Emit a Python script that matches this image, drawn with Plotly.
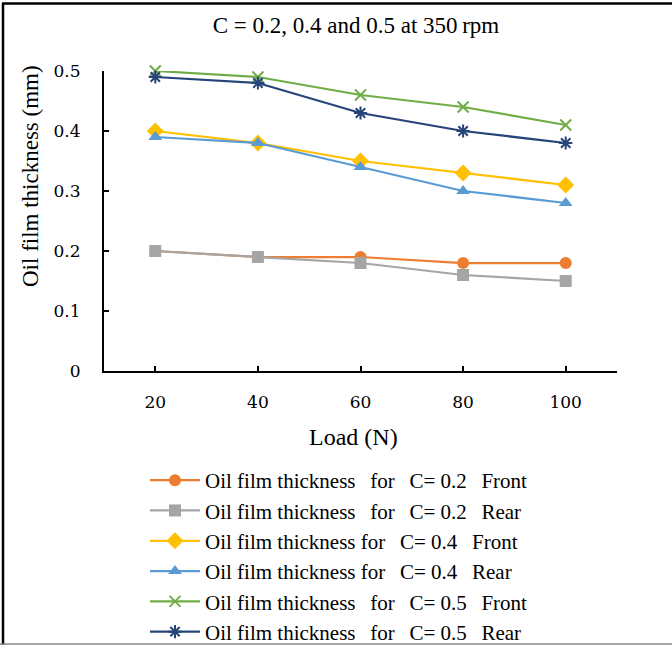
import plotly.graph_objects as go

loads = [20, 40, 60, 80, 100]
c02_front = [0.20, 0.19, 0.19, 0.18, 0.18]
c02_rear = [0.20, 0.19, 0.18, 0.16, 0.15]
c04_front = [0.40, 0.38, 0.35, 0.33, 0.31]
c04_rear = [0.39, 0.38, 0.34, 0.30, 0.28]
c05_front = [0.50, 0.49, 0.46, 0.44, 0.41]
c05_rear = [0.49, 0.48, 0.43, 0.40, 0.38]

S2 = " \u00a0\u2009"
names = [
    f"Oil film thickness{S2}for{S2}C= 0.2{S2}Front",
    f"Oil film thickness{S2}for{S2}C= 0.2{S2}Rear",
    f"Oil film thickness for{S2}C= 0.4{S2}Front",
    f"Oil film thickness for{S2}C= 0.4{S2}Rear",
    f"Oil film thickness{S2}for{S2}C= 0.5{S2}Front",
    f"Oil film thickness{S2}for{S2}C= 0.5{S2}Rear",
]
series = [c02_front, c02_rear, c04_front, c04_rear, c05_front, c05_rear]
colors = ["#ED7D31", "#A5A5A5", "#FFC000", "#5B9BD5", "#70AD47", "#264478"]
symbols = ["circle", "square", "diamond", "triangle-up", "x-thin", "asterisk"]
sizes = [12, 12, 13, 12, 11, 11]

FONT = "Liberation Serif, Times New Roman, serif"
TICKFONT = "DejaVu Serif, serif"

fig = go.Figure()
for i, (nm, ys, col, sym, sz) in enumerate(zip(names, series, colors, symbols, sizes)):
    fig.add_trace(go.Scatter(
        x=loads, y=ys, name=nm, mode="lines+markers",
        line=dict(color=col, width=2.25),
        marker=dict(symbol=sym, size=sz, color=col,
                    line=dict(color=col, width=2 if sym in ("x-thin", "asterisk") else 0)),
        cliponaxis=False,
    ))

L, R, T, B = 104, 55, 71, 274
W, H = 672, 645
pw, ph = W - L - R, H - T - B

def px(x):
    return (x - L) / pw

def py(y):
    return (H - B - y) / ph

fig.update_layout(
    width=W, height=H,
    margin=dict(l=L, r=R, t=T, b=B, autoexpand=False),
    paper_bgcolor="white", plot_bgcolor="white",
    font=dict(family=FONT, size=17, color="#000000"),
    title=dict(text="C = 0.2, 0.4 and 0.5 at 350\u2009rpm", x=356 / W, xanchor="center",
               y=1 - 25 / H, yanchor="middle", font=dict(size=23, family=FONT)),
    showlegend=True,
    legend=dict(x=px(145), xanchor="left", y=py(460), yanchor="top",
                font=dict(size=21, family=FONT), traceorder="normal",
                itemwidth=50, bgcolor="rgba(0,0,0,0)"),
    xaxis=dict(range=[10, 110], tickvals=[20, 40, 60, 80, 100, 110],
               ticktext=["20", "40", "60", "80", "100", ""],
               showgrid=False, zeroline=False, showline=True, linecolor="black",
               linewidth=2, ticks="inside", ticklen=5, tickwidth=2, tickcolor="black",
               ticklabelstandoff=15, tickfont=dict(size=17, family=TICKFONT)),
    yaxis=dict(range=[0, 0.5], tickvals=[0, 0.1, 0.2, 0.3, 0.4, 0.5],
               ticktext=["0", "0.1", "0.2", "0.3", "0.4", "0.5"],
               showgrid=False, zeroline=False, showline=True, linecolor="black",
               linewidth=2, ticks="inside", ticklen=5, tickwidth=2, tickcolor="black",
               ticklabelstandoff=18, tickfont=dict(size=17, family=TICKFONT)),
    annotations=[
        dict(text="Oil film thickness (mm)", x=px(30), y=py(176), xref="paper", yref="paper",
             textangle=-90, showarrow=False, font=dict(size=23, family=FONT),
             xanchor="center", yanchor="middle"),
        dict(text="Load (N)", x=px(353), y=py(437), xref="paper", yref="paper",
             showarrow=False, font=dict(size=24, family=FONT),
             xanchor="center", yanchor="middle"),
    ],
    shapes=[
        dict(type="line", xref="paper", yref="paper", x0=px(2), x1=px(672), y0=py(3.5), y1=py(3.5),
             line=dict(color="black", width=2.5)),
        dict(type="line", xref="paper", yref="paper", x0=px(3), x1=px(3), y0=py(3), y1=py(645),
             line=dict(color="black", width=2.5)),
        dict(type="line", xref="paper", yref="paper", x0=px(0), x1=px(672), y0=py(644), y1=py(644),
             line=dict(color="#888888", width=1.5)),
    ],
)

fig.write_html("out.html")
